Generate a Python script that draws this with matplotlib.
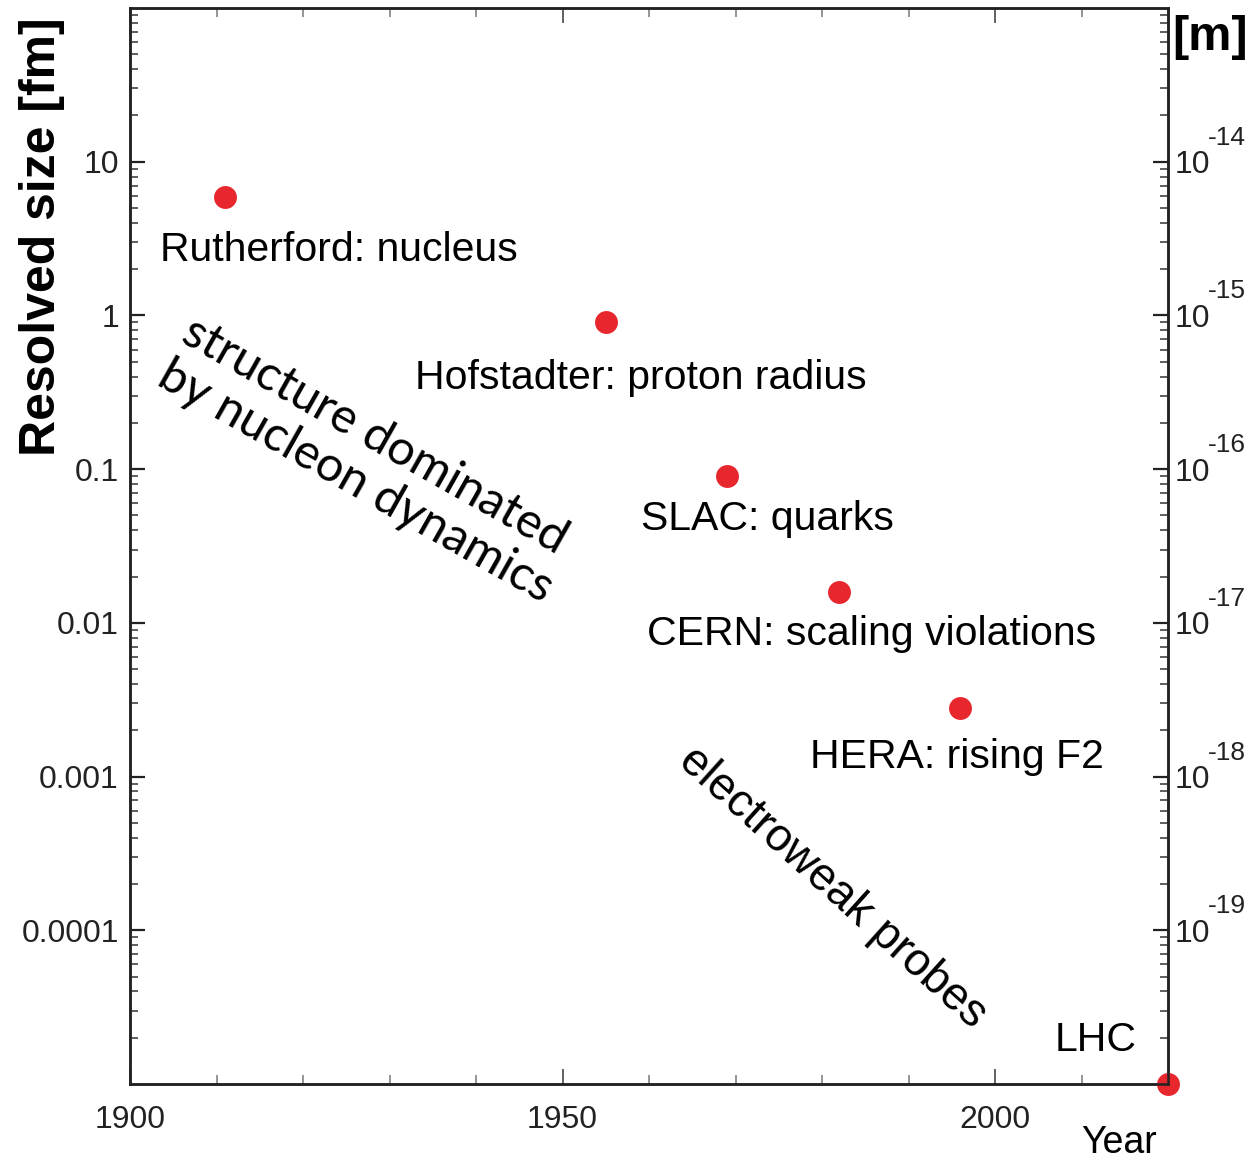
import matplotlib
matplotlib.use("Agg")
import matplotlib.pyplot as plt
import matplotlib.transforms as mtransforms
from matplotlib.ticker import FixedLocator, LogLocator, FuncFormatter, NullFormatter
import numpy as np

# ---- data ----
experiments = ["Rutherford: nucleus", "Hofstadter: proton radius", "SLAC: quarks",
               "CERN: scaling violations", "HERA: rising F2", "LHC"]
years = [1911, 1955, 1969, 1982, 1996, 2020]
size_fm = [5.9, 0.9, 0.09, 0.0159, 0.0028, 1e-5]

x_major = [1900, 1950, 2000]
x_minor = [1910, 1920, 1930, 1940, 1960, 1970, 1980, 1990, 2010]
y_major = [1e-4, 1e-3, 1e-2, 0.1, 1, 10]
y_labels = ["0.0001", "0.001", "0.01", "0.1", "1", "10"]
m_exponents = [-19, -18, -17, -16, -15, -14]

plt.rcParams['font.family'] = ['Liberation Sans', 'DejaVu Sans']

fig = plt.figure(figsize=(12.54, 11.64), dpi=100)
ax = fig.add_axes([130/1254, 1-1084/1164, (1168-130)/1254, (1084-8)/1164])

red = '#e8262e'
ax.plot(years, size_fm, linestyle='none', marker='o', ms=16.5, color=red,
        mec='none', clip_on=False, zorder=5)

ax.set_yscale('log')
ax.set_xlim(1900, 2020)
ax.set_ylim(1e-5, 100)

ax.xaxis.set_major_locator(FixedLocator(x_major))
ax.xaxis.set_minor_locator(FixedLocator(x_minor))
ax.yaxis.set_major_locator(FixedLocator(y_major))
ax.yaxis.set_major_formatter(FuncFormatter(
    lambda v, p: y_labels[int(np.argmin([abs(np.log10(v) - np.log10(t)) for t in y_major]))]))
ax.yaxis.set_minor_locator(LogLocator(base=10, subs=np.arange(2, 10), numticks=20))
ax.yaxis.set_minor_formatter(NullFormatter())

for s in ax.spines.values():
    s.set_linewidth(1.8)
    s.set_color('#222222')

ax.tick_params(axis='x', which='major', direction='in', length=11, width=1.3,
               color='#555555', labelsize=23, pad=15, top=True, labelcolor='#222222')
ax.tick_params(axis='x', which='minor', direction='in', length=6.5, width=1.1,
               color='#777777', top=True)
ax.tick_params(axis='y', which='major', direction='in', length=11, width=1.6,
               color='#222222', labelsize=23, pad=8, right=False, labelcolor='#222222')
ax.tick_params(axis='y', which='minor', direction='in', length=6, width=1.1,
               color='#333333', right=False)

ax2 = ax.twinx()
ax2.set_yscale('log')
ax2.set_ylim(1e-5 * 1e-15, 100 * 1e-15)
m_ticks = [10.0 ** e for e in m_exponents]
ax2.yaxis.set_major_locator(FixedLocator(m_ticks))
ax2.yaxis.set_major_formatter(FuncFormatter(lambda v, p: "10"))
ax2.yaxis.set_minor_locator(LogLocator(base=10, subs=np.arange(2, 10), numticks=20))
ax2.yaxis.set_minor_formatter(NullFormatter())
ax2.tick_params(axis='y', which='major', direction='in', length=11, width=1.6,
                color='#222222', labelsize=23, pad=5, labelcolor='#222222')
ax2.tick_params(axis='y', which='minor', direction='in', length=6, width=1.1, color='#333333')
for s in ax2.spines.values():
    s.set_linewidth(1.8)
    s.set_color('#222222')

# exponents of the right-hand tick labels, placed with the axis' own y scale
trans = mtransforms.blended_transform_factory(ax2.transAxes, ax2.transData)
for e, v in zip(m_exponents, m_ticks):
    ax2.annotate("-%d" % abs(e), xy=(1, v), xycoords=trans, xytext=(40, 24),
                 textcoords='offset pixels', fontsize=19, ha='left', va='center',
                 color='#222222', annotation_clip=False)

# axis titles
fig.text(42/1254, 1-237/1164, "Resolved size [fm]", rotation=90, fontsize=36,
         fontweight='bold', ha='center', va='center')
fig.text(1210/1254, 1-38/1164, "[m]", fontsize=35, fontweight='bold',
         ha='center', va='center')
ax.set_xlabel("Year", fontsize=27)
ax.xaxis.set_label_coords((1119-130)/1038, -(1143-1084)/1076)
ax.xaxis.label.set_va('center')
ax.xaxis.label.set_ha('center')

# experiment annotations (pixel anchors converted to axes fraction)
def axfrac(px, py):
    return ((px - 130) / 1038, (1084 - py) / 1076)

label_px = [(160, 250), (415, 378), (641, 519), (647, 634), (810, 757), (1055, 1040)]
for name, (px, py) in zip(experiments, label_px):
    fx, fy = axfrac(px, py)
    ax.text(fx, fy, name, transform=ax.transAxes, fontsize=29.5, ha='left', va='center')

fx, fy = axfrac(368, 460)
ax.text(fx, fy, "structure dominated\nby nucleon dynamics", transform=ax.transAxes,
        fontsize=35, family=['Lato', 'DejaVu Sans'], rotation=-29.5, rotation_mode='anchor',
        ha='center', va='center', multialignment='left', linespacing=1.15)

fx, fy = axfrac(832, 888)
ax.text(fx, fy, "electroweak probes", transform=ax.transAxes, fontsize=33,
        rotation=-42, rotation_mode='anchor', ha='center', va='center')

fig.savefig("out.png", dpi=100)
